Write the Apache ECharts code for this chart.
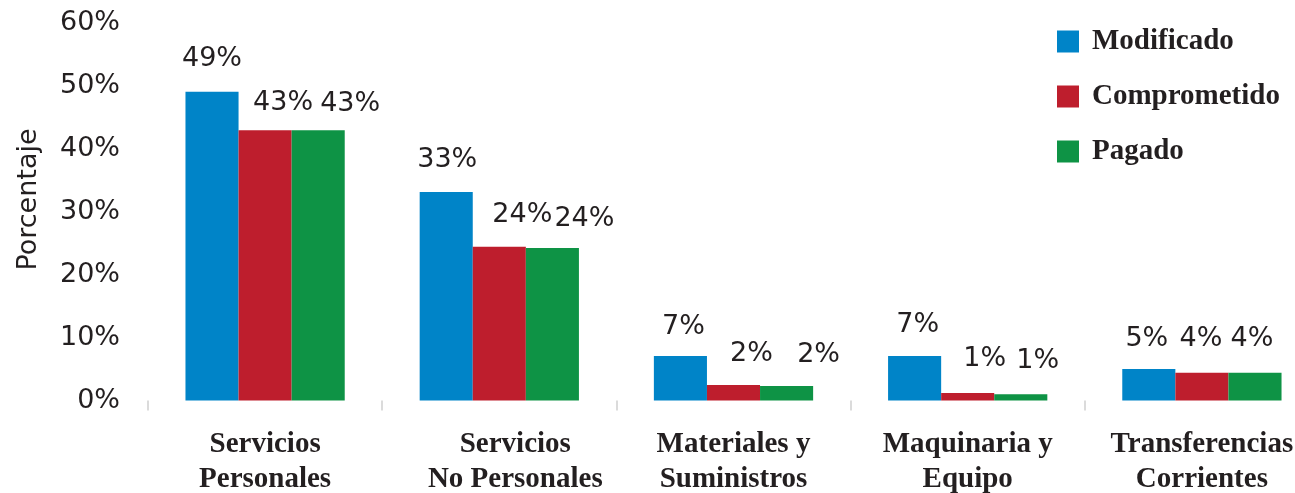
<!DOCTYPE html>
<html>
<head>
<meta charset="utf-8">
<script src="https://cdn.jsdelivr.net/npm/echarts@6/dist/echarts.min.js"></script>
<style>
  html, body { margin: 0; padding: 0; background: #fff; }
  #chart { width: 1295px; height: 493px; }
</style>
</head>
<body>
<div id="chart"></div>
<script>
const categories = ['Servicios\nPersonales', 'Servicios\nNo Personales', 'Materiales y\nSuministros', 'Maquinaria y\nEquipo', 'Transferencias\nCorrientes']
const seriesNames = ['Modificado', 'Comprometido', 'Pagado']
const modificado = [49, 33.1, 7.05, 7.05, 5.0]
const comprometido = [42.9, 24.4, 2.45, 1.2, 4.4]
const pagado = [42.9, 24.2, 2.3, 1.0, 4.4]
const yTicks = [0, 10, 20, 30, 40, 50, 60]

const COLORS = ['#0084c8', '#be1e2d', '#0e9345']
const INK = '#231f20'
const SANS = '"DejaVu Sans", sans-serif'
const SERIF = '"Liberation Serif", "Times New Roman", serif'

// label nudges (dx, dy) so the % texts sit like the original
const nudge = [
  [[0, -1], [1, 0], [3, 2], [3, 0], [-2, 1]],
  [[18, 4], [23, 0], [18, 0], [17, -2], [-1, -2]],
  [[32, 5], [32, 2], [32, 0], [17, -2], [-3, -2]],
]
// the second category label sits a bit right of its group in the original
const catPad = [0, 32, 0, 0, 0]

const chart = echarts.init(document.getElementById('chart'))
const values = [modificado, comprometido, pagado]

chart.setOption({
  animation: false,
  grid: { left: 148, right: -24, top: 22.5, bottom: 92.5, outerBoundsMode: 'none', containLabel: false },
  legend: {
    orient: 'vertical', left: 1057, top: 27, padding: 0,
    icon: 'rect', itemWidth: 22, itemHeight: 22, itemGap: 26,
    data: seriesNames,
    textStyle: { fontFamily: SERIF, fontWeight: 'bold', fontSize: 29, color: INK, padding: [0, 0, 0, 8] },
  },
  xAxis: {
    type: 'category',
    data: categories.map((c, i) => ({ value: c, textStyle: { padding: [0, 0, 0, catPad[i]] } })),
    axisLine: { show: false },
    axisTick: { show: true, length: 10, lineStyle: { color: '#cfcfcf', width: 1.5 } },
    axisLabel: {
      interval: 0, margin: 27, color: INK,
      fontFamily: SERIF, fontWeight: 'bold', fontSize: 29, lineHeight: 35,
    },
  },
  yAxis: {
    type: 'value', min: yTicks[0], max: yTicks[yTicks.length - 1], interval: 10,
    splitLine: { show: false }, axisLine: { show: false }, axisTick: { show: false },
    axisLabel: { margin: 28, color: INK, fontFamily: SANS, fontSize: 27, formatter: v => v + '%' },
    name: 'Porcentaje', nameLocation: 'middle', nameGap: 106,
    nameTextStyle: { color: INK, fontFamily: SANS, fontSize: 27, padding: [0, 0, 0, 24] },
  },
  series: seriesNames.map((name, s) => ({
    name, type: 'bar',
    barGap: 0, barCategoryGap: '32%',
    itemStyle: { color: COLORS[s] },
    label: {
      show: true, position: 'top', distance: 18,
      color: INK, fontFamily: SANS, fontSize: 27,
      formatter: p => Math.round(p.value) + '%',
    },
    data: values[s].map((v, i) => ({ value: v, label: { offset: nudge[s][i] } })),
  })),
})
</script>
</body>
</html>
